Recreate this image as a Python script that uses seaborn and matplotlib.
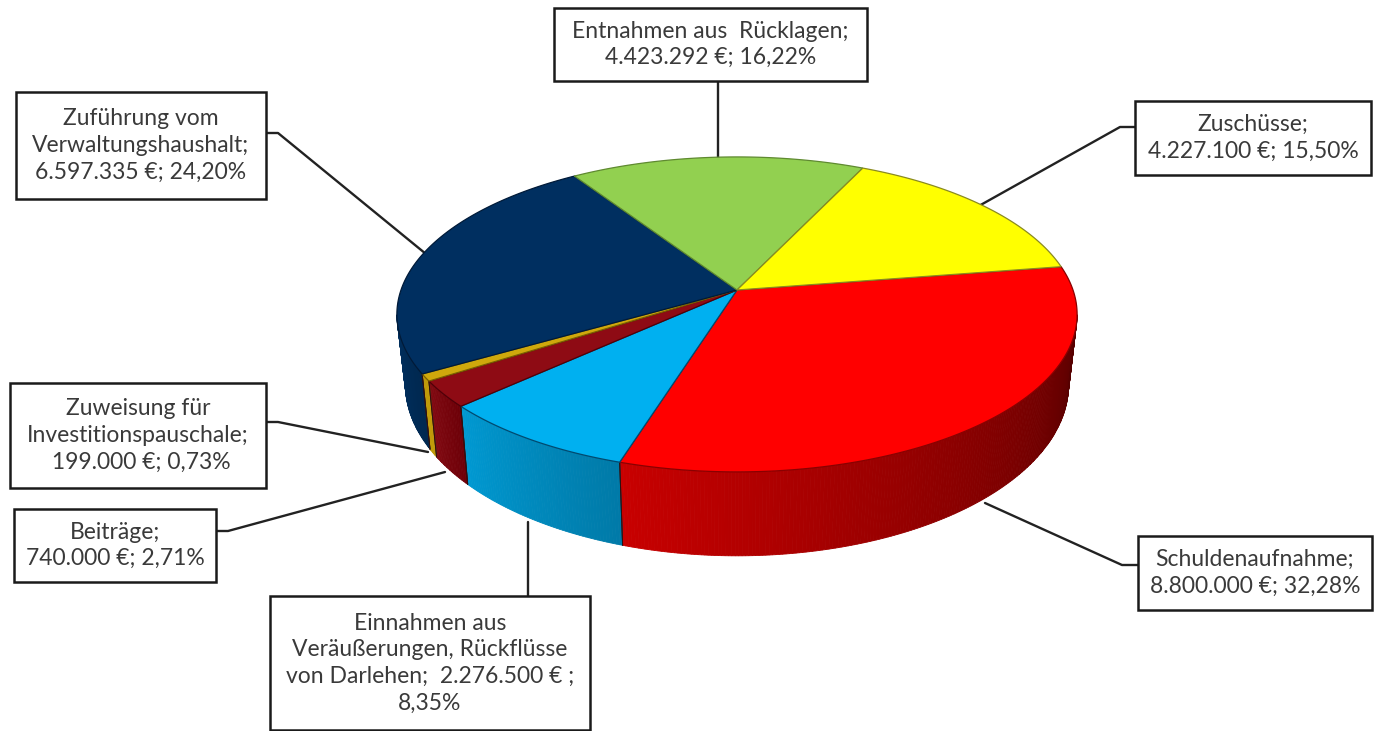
import numpy as np
import matplotlib
matplotlib.use("Agg")
import matplotlib.pyplot as plt
from matplotlib.patches import Rectangle
import seaborn as sns

# Données du graphique (sens horaire à partir de Schuldenaufnahme)
kategorien = ["Schuldenaufnahme", "Einnahmen", "Beiträge", "Zuweisung", "Zuführung", "Entnahmen", "Zuschüsse"]
anteile = [32.28, 8.35, 2.71, 0.73, 24.20, 16.22, 15.50]
farben = ["#ff0000", "#00b0f0", "#8e0b14", "#cfa80c", "#002f60", "#92d050", "#ffff00"]
seite_hell = ["#c80000", "#0099d2", "#820a12", "#c09a08", "#003060", "#92d050", "#ffff00"]
seite_dunkel = ["#560000", "#007aa8", "#6e0008", "#c09a08", "#002850", "#92d050", "#ffff00"]
kanten = ["#8a0000", "#004a70", "#500008", "#7a6000", "#001a38", "#5f8a30", "#8a8a20"]

etiketten = [
    "Schuldenaufnahme;\n8.800.000 €; 32,28%",
    "Einnahmen aus\nVeräußerungen, Rückflüsse\nvon Darlehen;  2.276.500 € ;\n8,35%",
    "Beiträge;\n740.000 €; 2,71%",
    "Zuweisung für\nInvestitionspauschale;\n 199.000 €; 0,73%",
    "Zuführung vom\nVerwaltungshaushalt;\n6.597.335 €; 24,20%",
    "Entnahmen aus  Rücklagen;\n4.423.292 €; 16,22%",
    "Zuschüsse;\n4.227.100 €; 15,50%",
]
# Position des boîtes : x0, y0, x1, y1 en pixels
boites = [
    (1138, 536, 1372, 610),
    (270, 596, 590, 730),
    (14, 509, 216, 582),
    (10, 383, 266, 488),
    (16, 92, 266, 199),
    (554, 8, 867, 81),
    (1135, 101, 1371, 175),
]
# Lignes de rappel
rappels = [
    [(1138, 565), (1122, 565), (985, 503)],
    [(528, 596), (528, 522)],
    [(216, 531), (228, 531), (445, 472)],
    [(266, 422), (278, 422), (428, 452)],
    [(266, 133), (278, 133), (426, 254)],
    [(718, 81), (718, 160)],
    [(1135, 127), (1120, 127), (977, 207)],
]

sns.set_theme(style="white")
plt.rcParams["font.family"] = ["Lato", "DejaVu Sans"]

# Projection du disque en perspective
cx, cy = 737, 290
A, B, k = 336, 153.7, 0.155
h, s = 68, 0.975
debut = 8.9


def haut(t):
    t = np.radians(t)
    w = 1 + k * np.sin(t)
    return cx + A * np.cos(t) / w, cy - B * np.sin(t) / w


def bas(t):
    t = np.radians(t)
    w = 1 + k * np.sin(t)
    return cx + s * A * np.cos(t) / w, cy - B * np.sin(t) / w + h / w ** 1.25


fig, ax = plt.subplots(figsize=(13.74, 7.31), dpi=100)
fig.subplots_adjust(0, 0, 1, 1)
ax.set_xlim(0, 1374)
ax.set_ylim(731, 0)
ax.axis("off")

bornes = debut - np.cumsum([0] + anteile) * 3.6

# Lignes de rappel derrière le camembert
for r in rappels:
    ax.plot(*zip(*r), color="#222222", lw=1.7, zorder=1)

# Faces latérales (seulement la partie visible)
for i in range(len(anteile)):
    t1 = min(bornes[i], -9)
    t2 = max(bornes[i + 1], -171)
    if t1 <= t2:
        continue
    n = max(2, int((t1 - t2) * 2))
    grad = sns.blend_palette([seite_hell[i], seite_dunkel[i]], n)
    ts = np.linspace(t2, t1, n + 1)
    for j in range(n):
        tt = np.linspace(ts[j], ts[j + 1], 3)
        xh, yh = haut(tt)
        xb, yb = bas(tt)
        ax.fill(np.r_[xh, xb[::-1]], np.r_[yh, yb[::-1]], color=grad[j], lw=0.6, zorder=2)
    for t in (t1, t2):
        if t in (bornes[i], bornes[i + 1]):
            ax.plot([haut(t)[0], bas(t)[0]], [haut(t)[1], bas(t)[1]], color="#301010", lw=0.7, zorder=3)

# Faces supérieures
for i in range(len(anteile)):
    tt = np.linspace(bornes[i + 1], bornes[i], 200)
    x, y = haut(tt)
    ax.fill(np.r_[cx, x], np.r_[cy, y], facecolor=farben[i], edgecolor=kanten[i], lw=0.9, zorder=4)

# Boîtes et textes
for (x0, y0, x1, y1), txt in zip(boites, etiketten):
    ax.add_patch(Rectangle((x0, y0), x1 - x0, y1 - y0, facecolor="white", edgecolor="#1a1a1a", lw=1.8, zorder=5))
    ax.text((x0 + x1) / 2, (y0 + y1) / 2, txt, ha="center", va="center", fontsize=16.5,
            color="#3a3a3a", linespacing=1.33, zorder=6)

fig.savefig("out.png", dpi=100)
